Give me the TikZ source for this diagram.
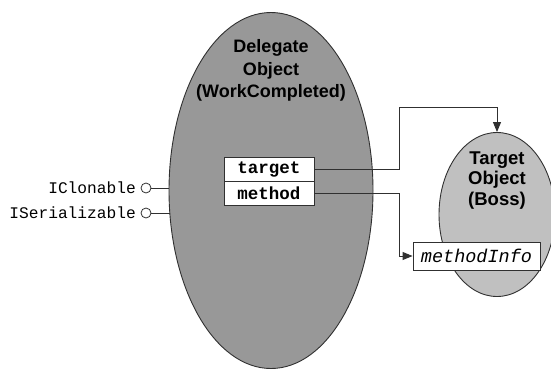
\documentclass[tikz,border=0pt]{standalone}
\usepackage{fontspec}
\setmainfont{Liberation Sans}
\newfontfamily\cour{Liberation Mono}
\usetikzlibrary{arrows.meta,shapes.geometric}
\definecolor{darkfill}{HTML}{989898}
\definecolor{lightfill}{HTML}{C0C0C0}
\definecolor{edge}{HTML}{303030}
\begin{document}
\begin{tikzpicture}[x=1pt,y=-1pt,
  blob/.style={ellipse,draw=edge,line width=0.9pt,inner sep=0pt},
  title/.style={font=\fontsize{18}{22.5}\selectfont\bfseries,align=center,inner sep=0pt},
  field/.style={draw=edge,fill=white,line width=0.9pt,inner sep=0pt,minimum width=90,minimum height=24},
  fieldtxt/.style={font=\cour\bfseries\fontsize{17.5}{18}\selectfont},
  iface/.style={font=\cour\fontsize{16.2}{16}\selectfont,anchor=east,inner sep=0pt},
  lolly/.style={circle,draw=edge,fill=white,line width=0.8pt,minimum size=10,inner sep=0pt},
  wire/.style={draw=edge,line width=0.9pt},
  tip/.style={-{Triangle[length=10pt,width=8pt]}}
]
\useasboundingbox (0,0) rectangle (551,370);
% ellipses
\node[blob,fill=darkfill,minimum width=204,minimum height=356] (deleg) at (271,190.5) {};
\node[blob,fill=lightfill,minimum width=116,minimum height=164] (boss) at (497,214.5) {};
% titles
\node[title] (dtitle) at (271,70.5) {Delegate\\Object\\(WorkCompleted)};
\node[title,font=\fontsize{18.5}{20.5}\selectfont\bfseries] (btitle) at (497,180.5) {Target\\Object\\(Boss)};
% fields
\node[field,fieldtxt] (tgt) at (269,169.5) {target};
\node[field,fieldtxt] (mth) at (269,193.5) {method};
\node[field,font=\cour\itshape\fontsize{18.5}{19}\selectfont,minimum width=127,minimum height=28] (mi) at (476.5,256) {methodInfo};
% interfaces
\node[lolly] (c1) at (146,188) {};
\node[lolly] (c2) at (146,213) {};
\node[iface] (l1) at (136,188) {IClonable};
\node[iface] (l2) at (136,213) {ISerializable};
\draw[wire] (c1.east) -- (c1.east -| deleg.west);
\draw[wire] (c2.east) -- ([xshift=1pt]c2.east -| deleg.west);
% connectors
\coordinate (j1) at (399,107);
\coordinate (j2) at (399,256);
\draw[wire,tip] (tgt.east) -| (j1) -| (boss.north);
\draw[wire,tip] (mth.east) -| (j2) -- (mi.west);
\end{tikzpicture}
\end{document}
